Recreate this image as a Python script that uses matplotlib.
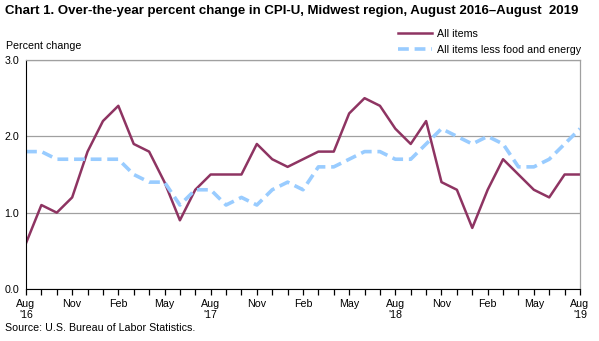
import matplotlib.pyplot as plt
from matplotlib.lines import Line2D

plt.rcParams['font.family'] = ['Liberation Sans', 'DejaVu Sans']

# Monthly over-the-year percent change, Aug 2016 - Aug 2019
all_items = [0.6, 1.1, 1.0, 1.2, 1.8, 2.2, 2.4, 1.9, 1.8, 1.4, 0.9, 1.3,
             1.5, 1.5, 1.5, 1.9, 1.7, 1.6, 1.7, 1.8, 1.8, 2.3, 2.5, 2.4,
             2.1, 1.9, 2.2, 1.4, 1.3, 0.8, 1.3, 1.7, 1.5, 1.3, 1.2, 1.5,
             1.5]
core = [1.8, 1.8, 1.7, 1.7, 1.7, 1.7, 1.7, 1.5, 1.4, 1.4, 1.1, 1.3,
        1.3, 1.1, 1.2, 1.1, 1.3, 1.4, 1.3, 1.6, 1.6, 1.7, 1.8, 1.8,
        1.7, 1.7, 1.9, 2.1, 2.0, 1.9, 2.0, 1.9, 1.6, 1.6, 1.7, 1.9,
        2.1]
month_names = ['Aug', 'Nov', 'Feb', 'May']
years = ["'16", "'17", "'18", "'19"]

months = list(range(len(all_items)))
labels = []
for m in months:
    if m % 3 != 0:
        labels.append('')
        continue
    name = month_names[(m // 3) % 4]
    if name == 'Aug':
        name += '\n' + years[m // 12]
    labels.append(name)

fs = 7.7

fig = plt.figure(figsize=(5.99, 3.41), dpi=100)
ax = fig.add_axes([26 / 599, 52 / 341, 554 / 599, 229 / 341])

ax.plot(months, all_items, color='#8E3462', linewidth=1.8, label='All items')
ax.plot(months, core, color='#99CCFF', linewidth=2.6, linestyle=(0, (3, 1.6)),
        label='All items less food and energy')

ax.set_xlim(0, 36)
ax.set_ylim(0, 3.0)
ax.set_yticks([0, 1, 2, 3])
ax.set_yticklabels(['0.0', '1.0', '2.0', '3.0'], fontsize=fs)
ax.set_xticks(months)
ax.set_xticklabels(labels, fontsize=fs, linespacing=1.2)
ax.tick_params(axis='x', direction='out', length=4, width=0.9, color='black', pad=3)
ax.tick_params(axis='y', length=0, pad=5)
ax.grid(axis='y', color='#A0A0A0', linewidth=0.9)
ax.set_axisbelow(True)

for side in ['top', 'right']:
    ax.spines[side].set_color('#A0A0A0')
    ax.spines[side].set_linewidth(0.9)
ax.spines['left'].set_color('black')
ax.spines['bottom'].set_color('black')

fig.text(0.008, 0.985, 'Chart 1. Over-the-year percent change in CPI-U, Midwest region, August 2016\u2013August  2019',
         fontsize=9.5, fontweight='bold', va='top', ha='left')
fig.text(6 / 599, 1 - 46 / 341, 'Percent change', fontsize=fs, va='center', ha='left')
fig.text(5 / 599, 1 - 328 / 341, 'Source: U.S. Bureau of Labor Statistics.', fontsize=fs,
         va='center', ha='left')

handles = [Line2D([], [], color='#8E3462', linewidth=1.8),
           Line2D([], [], color='#99CCFF', linewidth=2.6, linestyle=(0, (3, 1.6)))]
fig.legend(handles, ['All items', 'All items less food and energy'],
           loc='upper left', bbox_to_anchor=(398 / 599, 1 - 29 / 341),
           frameon=False, fontsize=fs, handlelength=3.2, handletextpad=0.45,
           labelspacing=0.55, borderaxespad=0, borderpad=0)

fig.savefig('out.png', dpi=100)
